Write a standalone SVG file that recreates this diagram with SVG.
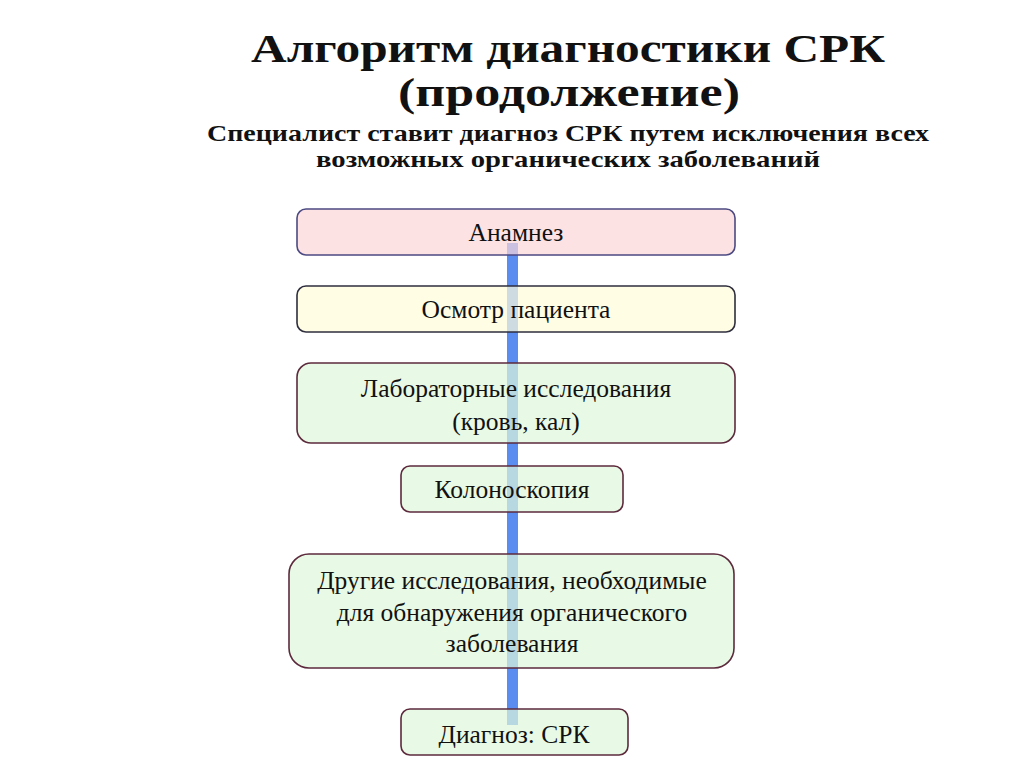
<svg xmlns="http://www.w3.org/2000/svg" width="1024" height="767" viewBox="0 0 1024 767">
<style>
.t1{font-family:"Liberation Serif","DejaVu Serif",serif;font-weight:bold;fill:#111;text-anchor:middle}
.lbl{font-family:"Liberation Serif","DejaVu Serif",serif;font-size:25.5px;fill:#111;text-anchor:middle}
.box{stroke-width:1.6;fill-opacity:0.7}
.pink{fill:#fcd6d8;stroke:#4c4a82}
.yel{fill:#fffcd8;stroke:#2e2e3e}
.grn{fill:#def6da;stroke:#5c2a3c}
</style>
<rect width="1024" height="767" fill="#ffffff"/>
<g id="title">
<text class="t1" x="568" y="62" font-size="40" textLength="634" lengthAdjust="spacingAndGlyphs">Алгоритм диагностики СРК</text>
<text class="t1" x="569" y="106" font-size="40" textLength="342" lengthAdjust="spacingAndGlyphs">(продолжение)</text>
<text class="t1" x="568" y="141" font-size="24" textLength="722" lengthAdjust="spacingAndGlyphs">Специалист ставит диагноз СРК путем исключения всех</text>
<text class="t1" x="568" y="167" font-size="24" textLength="504" lengthAdjust="spacingAndGlyphs">возможных органических заболеваний</text>
</g>
<g id="connectors">
<rect x="507" y="243" width="11" height="482" fill="#5b8cf0"/>
</g>
<g id="n1">
<rect class="box pink" x="297" y="209" width="438" height="46" rx="9"/>
<text class="lbl" x="516" y="241">Анамнез</text>
</g>
<g id="n2">
<rect class="box yel" x="297" y="286" width="438" height="46" rx="9"/>
<text class="lbl" x="516" y="318">Осмотр пациента</text>
</g>
<g id="n3">
<rect class="box grn" x="297" y="363" width="438" height="80" rx="14"/>
<text class="lbl" x="516" y="397">Лабораторные исследования</text>
<text class="lbl" x="516" y="430">(кровь, кал)</text>
</g>
<g id="n4">
<rect class="box grn" x="401" y="466" width="222" height="46" rx="9"/>
<text class="lbl" x="512" y="498">Колоноскопия</text>
</g>
<g id="n5">
<rect class="box grn" x="289" y="554" width="445" height="114" rx="20"/>
<text class="lbl" x="512" y="589">Другие исследования, необходимые</text>
<text class="lbl" x="512" y="621">для обнаружения органического</text>
<text class="lbl" x="512" y="652">заболевания</text>
</g>
<g id="n6">
<rect class="box grn" x="401" y="709" width="227" height="46" rx="9"/>
<text class="lbl" x="514" y="743">Диагноз: СРК</text>
</g>
</svg>
